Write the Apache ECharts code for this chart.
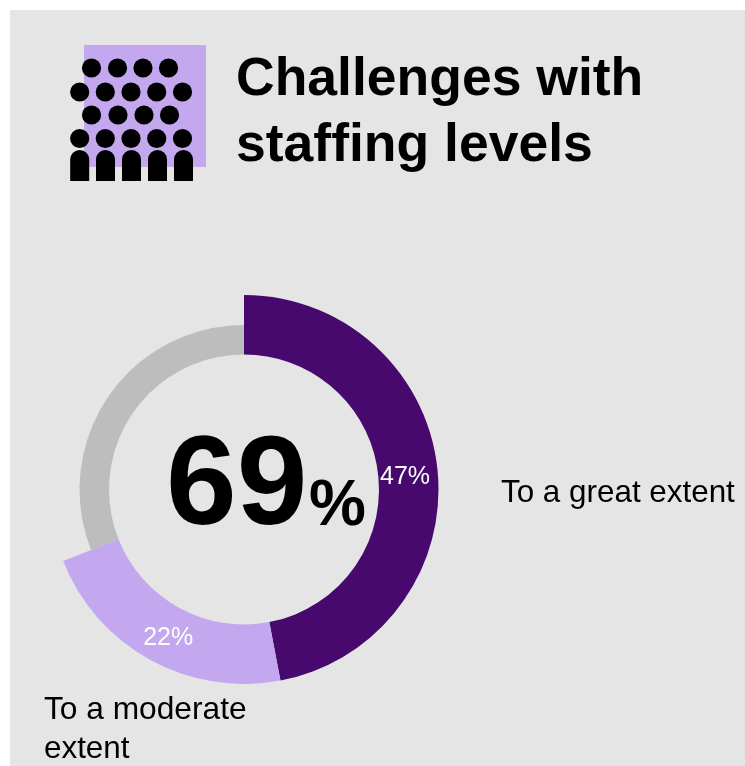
<!DOCTYPE html>
<html>
<head>
<meta charset="utf-8">
<style>
  html, body { margin: 0; padding: 0; background: #fff; }
  #chart { width: 745px; height: 766px; }
</style>
<script src="https://cdn.jsdelivr.net/npm/echarts@6/dist/echarts.min.js"></script>
</head>
<body>
<div id="chart"></div>
<script>
// Survey shares, in percent
const categories = ['To a great extent', 'To a moderate extent', 'Other responses'];
const shares = [47, 22, 31];
const sliceColors = ['#48096e', '#c3a7ef', '#bdbdbd'];
const labelOffsets = [[-6, 3], [5, 2]];
const titleLines = ['Challenges with', 'staffing levels'];
const headlineValue = 69;

const FONT = '"Liberation Sans", Arial, sans-serif';
const chart = echarts.init(document.getElementById('chart'), null, { renderer: 'canvas' });

// Crowd pictogram: four rows of heads above a row of shoulders
const headRows = [
  { y: 68, xs: [91.5, 117.5, 143, 168.5] },
  { y: 92, xs: [79.7, 105.3, 131, 156.7, 182.5] },
  { y: 115, xs: [91.5, 118, 144, 169.5] },
  { y: 138.5, xs: [79.7, 105.3, 131, 156.7, 182.5] }
];
const bodyXs = [79.7, 105.5, 131.5, 157.5, 183.5];

const pictogram = [
  { type: 'rect', shape: { x: 84, y: 45, width: 122, height: 122 }, style: { fill: '#c3a7ef' } }
];
headRows.forEach(function (row) {
  row.xs.forEach(function (x) {
    pictogram.push({ type: 'circle', shape: { cx: x, cy: row.y, r: 9.6 }, style: { fill: '#000' } });
  });
});
bodyXs.forEach(function (x) {
  pictogram.push({
    type: 'rect',
    shape: { x: x - 9.5, y: 150, width: 19, height: 31, r: [9.5, 9.5, 0, 0] },
    style: { fill: '#000' }
  });
});

function textEl(text, x, y, size, weight, extra) {
  return {
    type: 'text', x: x, y: y,
    style: Object.assign({
      text: text, fill: '#000', font: weight + ' ' + size + 'px ' + FONT,
      textVerticalAlign: 'middle'
    }, extra || {})
  };
}

chart.setOption({
  animation: false,
  backgroundColor: '#fff',
  graphic: {
    elements: [
      { type: 'rect', z: -10, shape: { x: 10, y: 10, width: 735, height: 756 }, style: { fill: '#e5e5e5' } }
    ].concat(pictogram).concat([
      textEl(titleLines[0], 236, 80, 53.5, 'bold'),
      textEl(titleLines[1], 236, 146, 53.5, 'bold'),
      textEl(String(headlineValue), 166, 489, 127, 'bold'),
      textEl('%', 309, 507, 64, 'bold'),
      textEl(categories[0], 501, 493, 31.4, 'normal'),
      textEl('To a moderate', 44, 710, 31.7, 'normal'),
      textEl('extent', 44, 749, 31.4, 'normal')
    ])
  },
  series: [
    {
      // Thin ring holding the remaining share
      type: 'pie',
      silent: true,
      center: [244, 489.5],
      radius: [135, 164.5],
      startAngle: 90,
      clockwise: true,
      label: { show: false },
      labelLine: { show: false },
      data: shares.map(function (v, i) {
        return { value: v, name: categories[i], itemStyle: { color: i === 2 ? sliceColors[2] : 'transparent' } };
      })
    },
    {
      // Wide ring for the two highlighted shares
      type: 'pie',
      silent: true,
      center: [244, 489.5],
      radius: [135, 194.5],
      startAngle: 90,
      clockwise: true,
      labelLine: { show: false },
      data: shares.map(function (v, i) {
        const highlighted = i < 2;
        return {
          value: v,
          name: categories[i],
          itemStyle: { color: highlighted ? sliceColors[i] : 'transparent' },
          label: {
            show: highlighted,
            position: 'inside',
            offset: labelOffsets[i],
            formatter: v + '%',
            color: '#fff',
            fontFamily: FONT,
            fontSize: 25
          }
        };
      })
    }
  ]
});
</script>
</body>
</html>
